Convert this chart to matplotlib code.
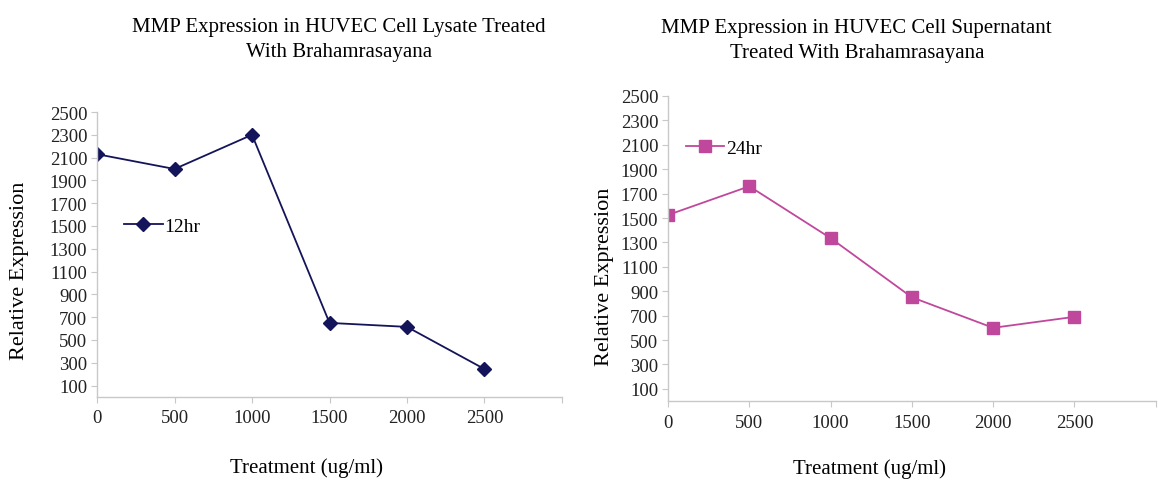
import matplotlib.pyplot as plt

plt.rcParams['font.family'] = ['Liberation Serif', 'DejaVu Serif']

treatment = [0, 500, 1000, 1500, 2000, 2500]
lysate_12hr = [2130, 2000, 2300, 650, 615, 245]
supernatant_24hr = [1525, 1760, 1335, 850, 600, 690]

xticks = [0, 500, 1000, 1500, 2000, 2500, 3000]
xticklabels = ['0', '500', '1000', '1500', '2000', '2500', '']
yticks = list(range(100, 2501, 200))

axis_grey = '#c8c8c8'


def style_axes(ax):
    for side in ['top', 'right']:
        ax.spines[side].set_visible(False)
    for side in ['left', 'bottom']:
        ax.spines[side].set_color(axis_grey)
        ax.spines[side].set_linewidth(1.0)
    ax.set_xlim(0, 3000)
    ax.set_ylim(0, 2500)
    ax.set_xticks(xticks)
    ax.set_xticklabels(xticklabels)
    ax.set_yticks(yticks)
    ax.tick_params(axis='both', colors='#222222', labelsize=13.5, length=4,
                   color=axis_grey, pad=3)
    ax.tick_params(axis='x', pad=5)


fig = plt.figure(figsize=(11.58, 4.85), dpi=100)

# left panel: cell lysate, 12hr
ax1 = fig.add_axes([0.0838, 0.1794, 0.4015, 0.5876])
ax1.plot(treatment, lysate_12hr, color='#14145a', marker='D', markersize=7,
         linewidth=1.3, label='12hr')
style_axes(ax1)
ax1.set_title('MMP Expression in HUVEC Cell Lysate Treated\nWith Brahamrasayana',
              fontsize=15, pad=40, linespacing=1.45, x=0.52)
ax1.set_xlabel('Treatment (ug/ml)', fontsize=15, labelpad=22, x=0.45)
ax1.set_ylabel('Relative Expression', fontsize=16, labelpad=15, y=0.446)
ax1.legend(loc='center left', bbox_to_anchor=(0.02, 0.6), frameon=False,
           fontsize=14, handlelength=2.0, handletextpad=0.1)

# right panel: supernatant, 24hr
ax2 = fig.add_axes([0.5769, 0.1711, 0.4211, 0.6289])
ax2.plot(treatment, supernatant_24hr, color='#c0489c', marker='s', markersize=8,
         linewidth=1.3, label='24hr')
style_axes(ax2)
ax2.set_title('MMP Expression in HUVEC Cell Supernatant\nTreated With Brahamrasayana',
              fontsize=15, pad=28, linespacing=1.45, x=0.387)
ax2.set_xlabel('Treatment (ug/ml)', fontsize=15, labelpad=20, x=0.414)
ax2.set_ylabel('Relative Expression', fontsize=16, labelpad=5, y=0.41)
ax2.legend(loc='center left', bbox_to_anchor=(0.0, 0.83), frameon=False,
           fontsize=14, handlelength=2.0, handletextpad=0.1)

fig.savefig('out.png', dpi=100)
